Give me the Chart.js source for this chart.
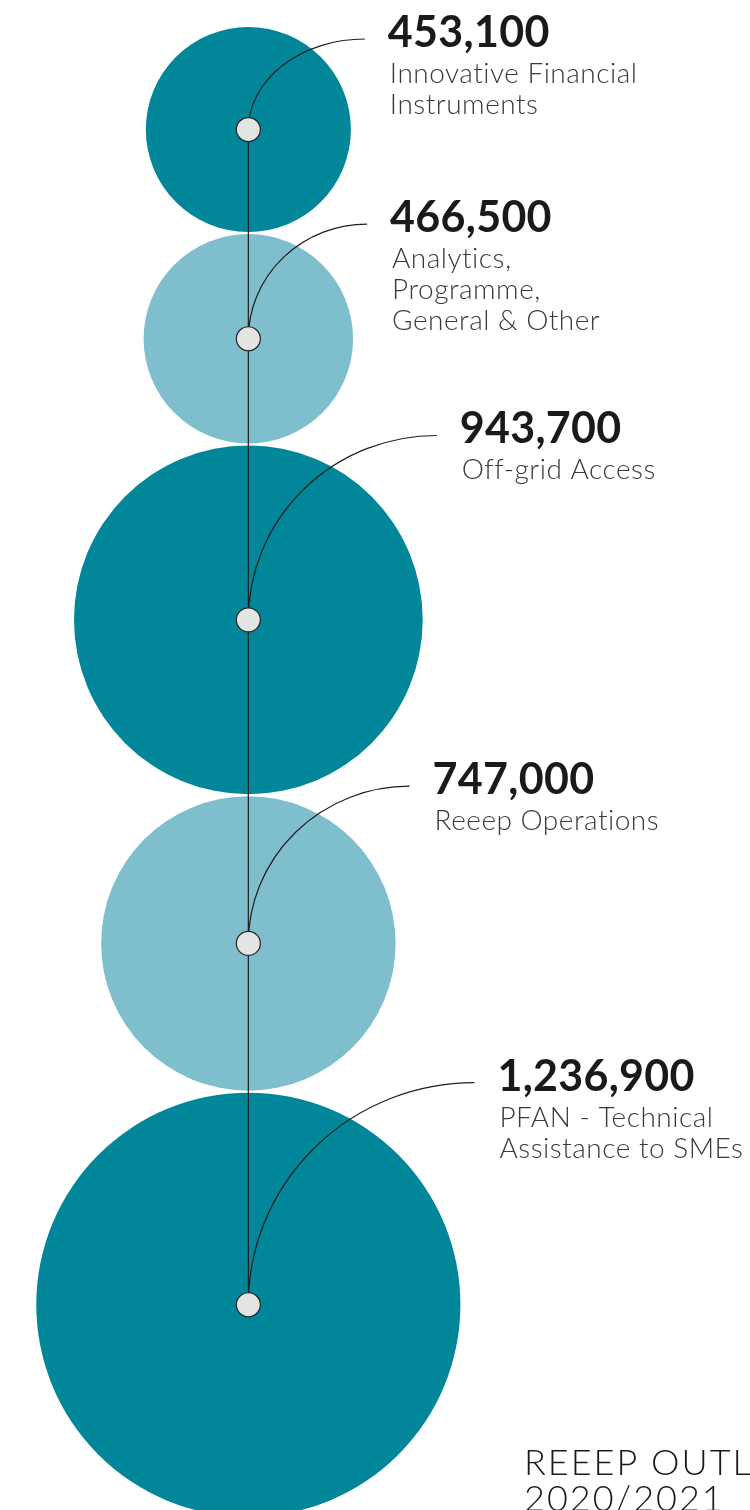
<!DOCTYPE html>
<html>
<head>
<meta charset="utf-8">
<script src="https://cdn.jsdelivr.net/npm/chart.js@4.4.0/dist/chart.umd.min.js"></script>
<style>
  html, body { margin: 0; padding: 0; background: #fff; overflow: hidden; }
  #wrap { position: relative; width: 750px; height: 1510px; }
</style>
</head>
<body>
<div id="wrap"><canvas id="budget-chart"></canvas></div>
<script>
// budget lines, top to bottom
const categories = [
  ["Innovative Financial", "Instruments"],
  ["Analytics,", "Programme,", "General & Other"],
  ["Off-grid Access"],
  ["Reeep Operations"],
  ["PFAN - Technical", "Assistance to SMEs"]
];
const budgetValues = [453100, 466500, 943700, 747000, 1236900];
const titleLines = ["REEEP OUTLOOK", "2020/2021"];

const darkTeal = "#02879a";
const lightTeal = "#7fbecd";

/* ============================================= */
/*         bubble size + stacking                */
/* ============================================= */
// radius grows with the value (power scale), bubbles stacked so they touch
const bubbleRadius = (v) => 142.2 * Math.pow(v / 712000, 0.7237);
const stackTop = 27;
const stackGap = 2;

const bubblePoints = [];
let cursor = stackTop;
budgetValues.forEach((v) => {
  const r = bubbleRadius(v);
  bubblePoints.push({ x: 0, y: cursor + r, r: r });
  cursor += 2 * r + stackGap;
});
const anchorPoints = bubblePoints.map((p) => ({ x: p.x, y: p.y, r: 12 }));

/* ============================================= */
/*         leader lines + labels                 */
/* ============================================= */
const leaderLines = {
  id: "leaderLines",
  beforeDatasetDraw(chart, args) {
    // draw the lines between the big bubbles and the small anchor dots
    if (args.index !== 0) return;
    const ctx = chart.ctx;
    const bubbles = chart.getDatasetMeta(1).data;
    ctx.save();
    ctx.strokeStyle = "#1e1e1e";
    ctx.lineWidth = 1.2;
    ctx.beginPath();
    ctx.moveTo(bubbles[0].x, bubbles[0].y);
    ctx.lineTo(bubbles[bubbles.length - 1].x, bubbles[bubbles.length - 1].y);
    ctx.stroke();
    bubbles.forEach((el) => {
      const end = labelAnchor(el);
      ctx.beginPath();
      ctx.ellipse(end.x, el.y, end.x - el.x, el.y - end.y, 0, Math.PI, 1.5 * Math.PI);
      ctx.stroke();
    });
    ctx.restore();
  },
  afterDraw(chart) {
    const ctx = chart.ctx;
    const bubbles = chart.getDatasetMeta(1).data;
    ctx.save();
    ctx.textAlign = "left";
    ctx.textBaseline = "alphabetic";
    bubbles.forEach((el, i) => {
      const end = labelAnchor(el);
      const tx = end.x + 23;
      const base = end.y + 8;
      ctx.fillStyle = "#1a1a1a";
      ctx.font = "bold 43px Lato";
      ctx.letterSpacing = "0.3px";
      ctx.fillText(budgetValues[i].toLocaleString("en-US"), tx, base);
      ctx.fillStyle = "#3a3a3a";
      ctx.font = "300 28px Lato";
      ctx.letterSpacing = "0.5px";
      categories[i].forEach((line, j) => {
        ctx.fillText(line, tx + 2, base + 36 + j * 31);
      });
    });
    // page header cut off at the bottom right
    ctx.fillStyle = "#1a1a1a";
    ctx.font = "300 36px Lato";
    ctx.letterSpacing = "2px";
    titleLines.forEach((line, j) => {
      ctx.fillText(line, 524, 1475 + j * 36);
    });
    ctx.restore();
  }
};

function labelAnchor(el) {
  const r = el.options.radius;
  return {
    x: el.x + r + 14,
    y: Math.max(el.y - r - 10, 39)
  };
}

/* ============================================= */
/*                  Chart                        */
/* ============================================= */
const budgetCanvas = document.querySelector("#budget-chart");

const budgetChart = new Chart(budgetCanvas, {
  type: "bubble",
  data: {
    datasets: [
      {
        label: "anchor",
        data: anchorPoints,
        backgroundColor: "#e3e5e2",
        borderColor: "#222",
        borderWidth: 1.2,
        hoverRadius: 0,
      },
      {
        label: "budget",
        data: bubblePoints,
        backgroundColor: [darkTeal, lightTeal, darkTeal, lightTeal, darkTeal],
        borderWidth: 0,
        hoverRadius: 0,
      },
    ],
  },
  options: {
    responsive: true,
    maintainAspectRatio: false,
    animation: false,
    events: [],
    layout: { padding: 0, autoPadding: false },
    scales: {
      x: { display: false, min: -1, max: 2.02 },
      y: { display: false, min: 0, max: 1510, reverse: true },
    },
    plugins: {
      legend: { display: false },
      tooltip: { enabled: false },
    },
  },
  plugins: [leaderLines],
});
</script>
</body>
</html>
